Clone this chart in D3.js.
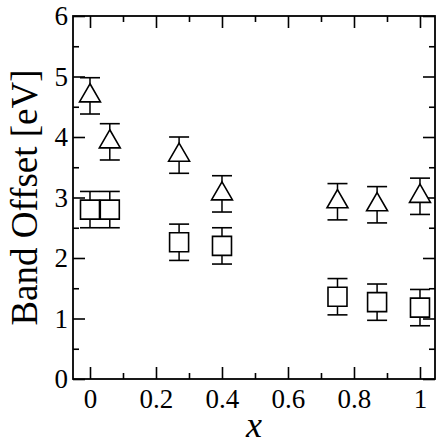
<!DOCTYPE html>
<html>
<head>
<meta charset="utf-8">
<script src="https://cdn.jsdelivr.net/npm/d3@7"></script>
</head>
<body style="margin:0;background:#fff">
<svg id="fig" width="436" height="445" style="display:block"></svg>
<script>
// ---- data ----
const xValues = [0, 0.06, 0.27, 0.40, 0.75, 0.87, 1.00];
const triangleValues = [4.68, 3.92, 3.70, 3.06, 2.93, 2.88, 3.02];
const triangleErrors = [0.3, 0.3, 0.3, 0.3, 0.3, 0.3, 0.3];
const squareValues = [2.80, 2.80, 2.26, 2.20, 1.36, 1.27, 1.18];
const squareErrors = [0.3, 0.3, 0.3, 0.3, 0.3, 0.3, 0.3];
const xTickValues = [0, 0.2, 0.4, 0.6, 0.8, 1];
const xMinorTicks = [0.1, 0.3, 0.5, 0.7, 0.9];
const yTickValues = [0, 1, 2, 3, 4, 5, 6];
const yMinorTicks = [0.5, 1.5, 2.5, 3.5, 4.5, 5.5];
const xLabel = "x";
const yLabel = "Band Offset [eV]";

(function () {
// ---- layout ----
const pL = 73, pR = 435, pT = 16, pB = 379;
const FONT = '"Liberation Serif", serif';
const svg = d3.select("#fig");

const x = d3.scaleLinear().domain([-0.0515, 1.0455]).range([pL, pR]);
const y = d3.scaleLinear().domain([0, 6]).range([pB, pT]);

const fmt = d => (d === 0 || d === 1) ? String(d) : d3.format(".1f")(d);

function styleAxis(g) {
  g.attr("font-family", null).attr("font-size", null);
  g.select(".domain").remove();
  g.selectAll("line").attr("stroke", "#000").attr("stroke-width", 1.6);
  g.selectAll("text").attr("fill", "#000").style("font-family", FONT).style("font-size", "27px");
}

// bottom axis
svg.append("g").attr("transform", `translate(0,${pB})`)
  .call(d3.axisBottom(x).tickValues(xTickValues).tickFormat(fmt).tickSizeInner(-12).tickSizeOuter(0).tickPadding(10))
  .call(styleAxis);
svg.append("g").attr("transform", `translate(0,${pB})`)
  .call(d3.axisBottom(x).tickValues(xMinorTicks).tickFormat("").tickSizeInner(-6).tickSizeOuter(0))
  .call(styleAxis);
// top axis
svg.append("g").attr("transform", `translate(0,${pT})`)
  .call(d3.axisTop(x).tickValues(xTickValues).tickFormat("").tickSizeInner(-12).tickSizeOuter(0))
  .call(styleAxis);
svg.append("g").attr("transform", `translate(0,${pT})`)
  .call(d3.axisTop(x).tickValues(xMinorTicks).tickFormat("").tickSizeInner(-6).tickSizeOuter(0))
  .call(styleAxis);
// left axis
svg.append("g").attr("transform", `translate(${pL},0)`)
  .call(d3.axisLeft(y).tickValues(yTickValues).tickFormat(d3.format("d")).tickSizeInner(-12).tickSizeOuter(0).tickPadding(5))
  .call(styleAxis);
svg.append("g").attr("transform", `translate(${pL},0)`)
  .call(d3.axisLeft(y).tickValues(yMinorTicks).tickFormat("").tickSizeInner(-6).tickSizeOuter(0))
  .call(styleAxis);
// right axis
svg.append("g").attr("transform", `translate(${pR},0)`)
  .call(d3.axisRight(y).tickValues(yTickValues).tickFormat("").tickSizeInner(-12).tickSizeOuter(0))
  .call(styleAxis);
svg.append("g").attr("transform", `translate(${pR},0)`)
  .call(d3.axisRight(y).tickValues(yMinorTicks).tickFormat("").tickSizeInner(-6).tickSizeOuter(0))
  .call(styleAxis);

// frame
svg.append("rect")
  .attr("x", pL).attr("y", pT)
  .attr("width", pR - pL).attr("height", pB - pT)
  .attr("fill", "none").attr("stroke", "#000").attr("stroke-width", 1.8);

// ---- series ----
function drawSeries(vals, errs, symbolType, size) {
  const data = xValues.map((xv, i) => ({ x: xv, y: vals[i], e: errs[i] }));
  const g = svg.append("g");
  const cap = 10;
  const eb = g.selectAll(".eb").data(data).enter().append("g");
  eb.append("line")
    .attr("x1", d => x(d.x)).attr("x2", d => x(d.x))
    .attr("y1", d => y(d.y - d.e)).attr("y2", d => y(d.y + d.e))
    .attr("stroke", "#000").attr("stroke-width", 1.5);
  eb.append("line")
    .attr("x1", d => x(d.x) - cap).attr("x2", d => x(d.x) + cap)
    .attr("y1", d => y(d.y + d.e)).attr("y2", d => y(d.y + d.e))
    .attr("stroke", "#000").attr("stroke-width", 1.6);
  eb.append("line")
    .attr("x1", d => x(d.x) - cap).attr("x2", d => x(d.x) + cap)
    .attr("y1", d => y(d.y - d.e)).attr("y2", d => y(d.y - d.e))
    .attr("stroke", "#000").attr("stroke-width", 1.6);
  g.selectAll(".pt").data(data).enter().append("path")
    .attr("transform", d => `translate(${x(d.x)},${y(d.y)})`)
    .attr("d", d3.symbol().type(symbolType).size(size))
    .attr("fill", "#fff").attr("stroke", "#000").attr("stroke-width", 1.6);
}

drawSeries(triangleValues, triangleErrors, d3.symbolTriangle, 190);
drawSeries(squareValues, squareErrors, d3.symbolSquare, 361);

// ---- axis titles ----
svg.append("text")
  .attr("transform", `translate(37,${(pT + pB) / 2}) rotate(-90)`)
  .attr("text-anchor", "middle")
  .attr("fill", "#000")
  .style("font-family", FONT)
  .style("font-size", "37px")
  .text(yLabel);

svg.append("text")
  .attr("x", (pL + pR) / 2).attr("y", 437)
  .attr("text-anchor", "middle")
  .attr("fill", "#000")
  .style("font-family", FONT)
  .style("font-size", "36px").style("font-style", "italic")
  .text(xLabel);
})();
</script>
</body>
</html>
